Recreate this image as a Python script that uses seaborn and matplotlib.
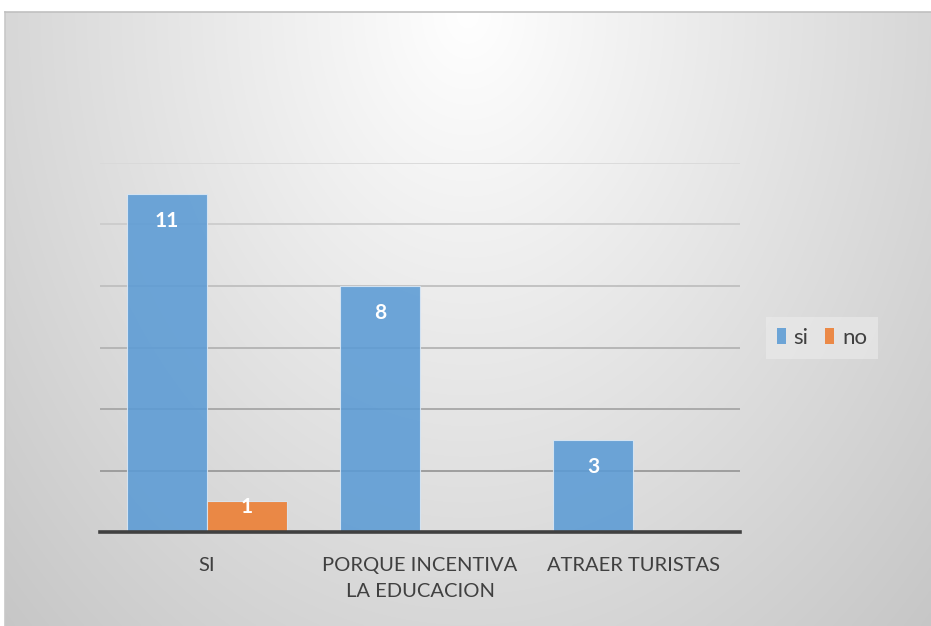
import numpy as np
import pandas as pd
import matplotlib
matplotlib.use("Agg")
import matplotlib.pyplot as plt
import seaborn as sns
from matplotlib.patches import Patch

# ---- data ----
categories = ["SI", "PORQUE INCENTIVA\nLA EDUCACION", "ATRAER TURISTAS"]
series_names = ["si", "no"]
si_values = [11, 8, 3]
no_values = [1, 0, 0]
y_ticks = [0, 2, 4, 6, 8, 10, 12]

sns.set_theme(style="white")
plt.rcParams["font.family"] = ["Lato", "DejaVu Sans"]

W, H, DPI = 931, 626, 100
fig = plt.figure(figsize=(W / DPI, H / DPI), dpi=DPI)
fig.patch.set_facecolor("white")

# ---- background radial gradient panel ----
bx0, by0 = 5, 12
bg_ax = fig.add_axes([bx0 / W, 0, (W - bx0) / W, (H - by0) / H])
nx, ny = 400, 300
xx, yy = np.meshgrid(np.linspace(0, 1, nx), np.linspace(0, 1, ny))
d = np.sqrt(((xx - 0.5) / 0.5) ** 2 + (yy / 1.0) ** 2)
g = np.clip(255 - 40 * d, 190, 255) / 255.0
img = np.dstack([g, g, g])
bg_ax.imshow(img, aspect="auto", extent=[0, 1, 1, 0], interpolation="bilinear")
bg_ax.set_xlim(0, 1)
bg_ax.set_ylim(1, 0)
bg_ax.set_xticks([])
bg_ax.set_yticks([])
for s in bg_ax.spines.values():
    s.set_visible(False)
bg_ax.spines["top"].set_visible(True)
bg_ax.spines["left"].set_visible(True)
bg_ax.spines["top"].set_color("#c0c0c0")
bg_ax.spines["left"].set_color("#c8c8c8")
bg_ax.spines["top"].set_linewidth(1.2)
bg_ax.spines["left"].set_linewidth(1.2)

# ---- main axes ----
x0, x1 = 100, 740
y_bot, y_top = 532, 163
ax = fig.add_axes([x0 / W, (H - y_bot) / H, (x1 - x0) / W, (y_bot - y_top) / H])
ax.patch.set_alpha(0)

df = pd.DataFrame({
    "cat": categories * 2,
    "series": [series_names[0]] * 3 + [series_names[1]] * 3,
    "value": si_values + no_values,
})
palette = {"si": "#5B9BD5", "no": "#ED7D31"}
sns.barplot(data=df, x="cat", y="value", hue="series", order=categories,
            hue_order=series_names, palette=palette, width=0.75, gap=0,
            saturation=1, alpha=0.88, edgecolor="#dbe8f5", linewidth=0.8,
            ax=ax, legend=False, zorder=3)

ax.set_ylim(0, 12)
ax.set_xlim(-0.5, 2.5)
ax.set_yticks(y_ticks)
ax.set_ylabel("")
ax.set_xlabel("")
ax.tick_params(axis="y", left=False, labelleft=False)
ax.tick_params(axis="x", bottom=False, pad=12, labelsize=14.5, labelcolor="#404040")
for lbl in ax.get_xticklabels():
    lbl.set_linespacing(1.65)

ax.grid(axis="y", linewidth=1.3, zorder=1)
ax.set_axisbelow(True)
gl = ax.yaxis.get_gridlines()
for line, t in zip(gl, y_ticks):
    f = t / 12.0
    c = 0.55 + (0.85 - 0.55) * f
    line.set_color((c, c, c))
    if t == 0:
        line.set_visible(False)

for s in ["top", "right", "left"]:
    ax.spines[s].set_visible(False)
ax.spines["bottom"].set_color("#404040")
ax.spines["bottom"].set_linewidth(2.6)
ax.spines["bottom"].set_zorder(5)

# ---- data labels ----
px_per_unit = (y_bot - y_top) / 12.0
for cont in ax.containers:
    for bar in cont:
        h = bar.get_height()
        if h <= 0:
            continue
        hpx = h * px_per_unit
        off = 27 if hpx > 60 else 6
        ax.annotate(f"{int(h)}", (bar.get_x() + bar.get_width() / 2, h),
                    xytext=(0, -off * 72 / DPI), textcoords="offset points",
                    ha="center", va="center", color="white",
                    fontsize=15, fontweight="bold", zorder=6)

# ---- legend ----
handles = [Patch(facecolor=palette[n], alpha=0.88, edgecolor="none") for n in series_names]
leg = fig.legend(handles, series_names, loc="center",
                 bbox_to_anchor=(822 / W, 1 - 338 / H), ncol=2,
                 frameon=True, fontsize=16, handlelength=0.4, handleheight=0.75,
                 handletextpad=0.35, columnspacing=0.75, borderpad=0.5)
leg.get_frame().set_facecolor("#ececec")
leg.get_frame().set_edgecolor("none")
leg.get_frame().set_alpha(0.6)
leg.get_frame().set_boxstyle("square", pad=0)
for t in leg.get_texts():
    t.set_color("#404040")

fig.savefig("out.png", dpi=DPI)
